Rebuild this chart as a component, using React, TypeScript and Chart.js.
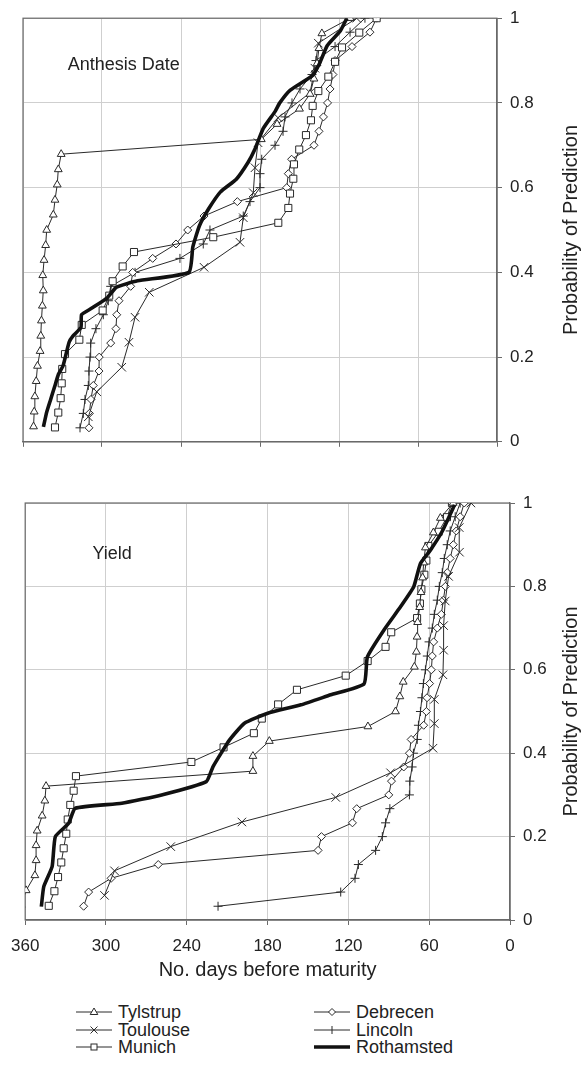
import React, { useEffect, useRef } from 'react';
import { Chart, registerables } from 'chart.js';

Chart.register(...registerables);

// ---------- Data ----------
const seriesNames = ['Tylstrup', 'Toulouse', 'Munich', 'Debrecen', 'Lincoln', 'Rothamsted'];

const xTickStep = 60; // 360, 300, 240, 180, 120, 60, 0
const yTickStep = 0.2; // 0 .. 1

const prob28 = [0.036, 0.071, 0.107, 0.143, 0.179, 0.214, 0.25, 0.286, 0.321, 0.357, 0.393, 0.429, 0.464, 0.5, 0.536, 0.571, 0.607, 0.643, 0.679, 0.714, 0.75, 0.786, 0.821, 0.857, 0.893, 0.929, 0.964, 1];
const prob29 = [0.034, 0.069, 0.103, 0.138, 0.172, 0.207, 0.241, 0.276, 0.31, 0.345, 0.379, 0.414, 0.448, 0.483, 0.517, 0.552, 0.586, 0.621, 0.655, 0.69, 0.724, 0.759, 0.793, 0.828, 0.862, 0.897, 0.931, 0.966, 1];
const prob30 = [0.033, 0.067, 0.1, 0.133, 0.167, 0.2, 0.233, 0.267, 0.3, 0.333, 0.367, 0.4, 0.433, 0.467, 0.5, 0.533, 0.567, 0.6, 0.633, 0.667, 0.7, 0.733, 0.767, 0.8, 0.833, 0.867, 0.9, 0.933, 0.967, 1];
const prob17 = [0.059, 0.118, 0.176, 0.235, 0.294, 0.353, 0.412, 0.471, 0.529, 0.588, 0.647, 0.706, 0.765, 0.824, 0.882, 0.941, 1];

// Anthesis date panel (days before maturity)
const anthTylstrup = [352, 351.5, 351, 350, 349, 347, 346.5, 346, 345.3, 344.6, 345, 344, 342.8, 342, 337, 335.7, 334, 333.2, 331, 179, 167, 150, 142, 139, 136.7, 135.2, 133, 111.6];
const anthToulouse = [310.4, 304, 285, 279.5, 274.9, 264.1, 222.5, 195.2, 192.7, 185.1, 183.8, 181.5, 166.3, 142, 138.3, 135.7, 106.6];
const anthMunich = [335.7, 333.2, 331.4, 330.6, 330.2, 328.1, 317.2, 315.4, 299.5, 294.5, 291.9, 284.3, 275.7, 215.5, 166.1, 158.5, 157.2, 154.7, 154.2, 150.2, 145.1, 141.3, 140, 135.7, 128.1, 123, 117.7, 104.6, 91.4];
const anthDebrecen = [309.9, 309.6, 308.4, 306.6, 302.3, 302.1, 293.4, 289.4, 288.8, 287.1, 278.2, 276.7, 261.5, 243.8, 234.9, 222.5, 197.2, 159.7, 158.5, 156, 139, 135.2, 131.8, 128.7, 126.8, 124.6, 123, 110.1, 96.5, 91.4];
const anthLincoln = [316.7, 314.2, 312.9, 310.4, 309.9, 309.1, 308.6, 304.6, 299, 295.2, 293.4, 274.9, 240.8, 223.1, 218, 192.7, 187.6, 180, 180, 178.7, 168.6, 162.5, 161, 155.7, 149.6, 140.5, 137.5, 123, 111.6, 100.3];
const anthRothamstedDays = [344.5, 342, 339, 336, 333, 329.5, 325, 322, 316, 315.5, 308, 296, 289, 273, 234, 231, 226, 219, 210, 198, 189, 184, 177.5, 168.5, 165, 157, 140, 134.5, 129, 119, 114];
const anthRothamstedProb = [0.035, 0.07, 0.1, 0.13, 0.16, 0.18, 0.235, 0.25, 0.27, 0.3, 0.315, 0.34, 0.365, 0.38, 0.4, 0.46, 0.51, 0.55, 0.59, 0.62, 0.66, 0.69, 0.74, 0.78, 0.8, 0.83, 0.865, 0.895, 0.935, 0.97, 1.0];

// Yield panel (days before maturity)
const yieldTylstrup = [363, 359.3, 352.8, 351.9, 351.9, 351.1, 347.4, 345.4, 344.5, 190.9, 190.9, 178.7, 105.5, 85, 81.8, 79.3, 71, 69.5, 69, 68.6, 67.1, 66.1, 64.9, 64.1, 62.8, 56.9, 51.7, 42.2];
const yieldToulouse = [301.1, 293.7, 251.9, 199.1, 129.4, 88.7, 57.2, 56.2, 56.2, 49.8, 49.3, 49.3, 48.1, 45.6, 37.5, 37.7, 29];
const yieldMunich = [342.5, 338.3, 335.6, 333.2, 331.4, 329.5, 328.4, 326.5, 324, 322.3, 236.6, 212.7, 190.2, 184.3, 172.2, 158.2, 122, 105.7, 92.4, 88.2, 69, 66.9, 65.8, 63.6, 62.1, 60.6, 53, 46.8, 43.1];
const yieldDebrecen = [316.6, 312.9, 296.2, 261.2, 142.5, 140, 117, 113.8, 90, 88, 78.9, 74.7, 73.4, 64.1, 62.1, 61.6, 59.7, 58.4, 57.7, 56.7, 54, 51, 49.5, 48, 46.6, 44.4, 42.1, 39.9, 37, 34];
const yieldLincoln = [216.8, 125.7, 115.1, 112.6, 99.8, 94.8, 92.4, 89.2, 74.7, 74.4, 72.7, 71.7, 68.9, 68, 66.5, 65.4, 64.3, 62.8, 61.4, 60.1, 57.7, 56.2, 54, 52.5, 50.3, 48.8, 46.6, 44.4, 40.7, 37];
const yieldRothamstedDays = [348, 346.2, 340, 337.6, 327.7, 322.8, 288.3, 258.7, 225.5, 220.5, 208.2, 197.2, 179.9, 155.2, 133.1, 108.4, 105.9, 93.7, 81.3, 71.5, 66.5, 59.1, 50.5, 41.2];
const yieldRothamstedProb = [0.032, 0.08, 0.128, 0.2, 0.232, 0.268, 0.28, 0.3, 0.332, 0.368, 0.432, 0.472, 0.496, 0.516, 0.54, 0.566, 0.631, 0.695, 0.751, 0.799, 0.855, 0.887, 0.931, 0.995];

const panelLabels = ['Anthesis Date', 'Yield'];
const yTitle = 'Probability of Prediction';
const xTitle = 'No. days before maturity';

// ---------- Styles ----------
const FONT = "'Liberation Sans', Arial, Helvetica, sans-serif";
const LINE = '#2a2a2a';
const GRID = '#cfcfcf';
const AXIS = '#6a6a6a';
const TEXT = '#222';

const markerStyles: Record<string, { pointStyle: any; radius: number }> = {
  Tylstrup: { pointStyle: 'triangle', radius: 4.5 },
  Toulouse: { pointStyle: 'crossRot', radius: 6 },
  Munich: { pointStyle: 'rect', radius: 5 },
  Debrecen: { pointStyle: 'rectRot', radius: 4 },
  Lincoln: { pointStyle: 'cross', radius: 4.5 },
};

function zip(days: number[], probs: number[]) {
  return days.map((d, i) => ({ x: d, y: probs[i] }));
}

function buildDatasets(panel: 'anth' | 'yield') {
  const src =
    panel === 'anth'
      ? {
          Tylstrup: zip(anthTylstrup, prob28),
          Toulouse: zip(anthToulouse, prob17),
          Munich: zip(anthMunich, prob29),
          Debrecen: zip(anthDebrecen, prob30),
          Lincoln: zip(anthLincoln, prob30),
          Rothamsted: zip(anthRothamstedDays, anthRothamstedProb),
        }
      : {
          Tylstrup: zip(yieldTylstrup, prob28),
          Toulouse: zip(yieldToulouse, prob17),
          Munich: zip(yieldMunich, prob29),
          Debrecen: zip(yieldDebrecen, prob30),
          Lincoln: zip(yieldLincoln, prob30),
          Rothamsted: zip(yieldRothamstedDays, yieldRothamstedProb),
        };
  return seriesNames.map((name) => {
    if (name === 'Rothamsted') {
      return {
        label: name,
        data: (src as any)[name],
        showLine: true,
        borderColor: '#111',
        borderWidth: 3.6,
        pointRadius: 0,
        tension: 0.15,
        order: 0,
      };
    }
    const m = markerStyles[name];
    return {
      label: name,
      data: (src as any)[name],
      showLine: true,
      borderColor: LINE,
      borderWidth: 1,
      pointStyle: m.pointStyle,
      pointRadius: m.radius,
      pointBorderColor: LINE,
      pointBackgroundColor: '#fff',
      pointBorderWidth: 1,
      tension: 0,
      order: 1,
    };
  });
}

const decorPlugin = {
  id: 'panelDecor',
  beforeDatasetsDraw(chart: any) {
    const { ctx, chartArea } = chart;
    ctx.save();
    ctx.strokeStyle = AXIS;
    ctx.lineWidth = 1.2;
    ctx.strokeRect(chartArea.left, chartArea.top, chartArea.right - chartArea.left, chartArea.bottom - chartArea.top);
    ctx.restore();
  },
  afterDraw(chart: any, _args: any, opts: any) {
    const { ctx, chartArea, scales } = chart;
    ctx.save();
    ctx.fillStyle = TEXT;
    ctx.font = `18px ${FONT}`;
    ctx.textAlign = 'left';
    ctx.textBaseline = 'middle';
    ctx.fillText(opts.label, scales.x.getPixelForValue(opts.labelX), scales.y.getPixelForValue(opts.labelY));
    ctx.translate(opts.titleX, (chartArea.top + chartArea.bottom) / 2);
    ctx.rotate(-Math.PI / 2);
    ctx.textAlign = 'center';
    ctx.font = `20px ${FONT}`;
    ctx.fillText(yTitle, 0, 0);
    ctx.restore();
  },
};

function makeConfig(panel: 'anth' | 'yield') {
  const isTop = panel === 'anth';
  return {
    type: 'scatter' as const,
    data: { datasets: buildDatasets(panel) },
    plugins: [decorPlugin],
    options: {
      responsive: false,
      animation: false as const,
      layout: { padding: { left: 23, top: isTop ? 15 : 43, right: 0, bottom: 0 } },
      plugins: {
        legend: { display: false },
        tooltip: { enabled: false },
        panelDecor: {
          label: isTop ? panelLabels[0] : panelLabels[1],
          labelX: isTop ? 326 : 310,
          labelY: isTop ? 0.89 : 0.878,
          titleX: 571,
        },
      },
      scales: {
        x: {
          type: 'linear' as const,
          reverse: true,
          min: 0,
          max: 360,
          ticks: {
            stepSize: xTickStep,
            display: !isTop,
            color: TEXT,
            padding: 11,
            maxRotation: 0,
            font: { size: 17, family: FONT },
          },
          grid: { color: GRID, lineWidth: 1, tickColor: AXIS, tickLength: 5, drawTicks: true },
          border: { color: AXIS, width: 1.2 },
          title: {
            display: !isTop,
            text: xTitle,
            color: TEXT,
            font: { size: 20, family: FONT },
            padding: { top: 0, bottom: 3 },
          },
          afterFit: (s: any) => {
            s.height = isTop ? 11 : 65;
          },
        },
        y: {
          type: 'linear' as const,
          position: 'right' as const,
          min: 0,
          max: 1,
          ticks: {
            stepSize: yTickStep,
            color: TEXT,
            padding: 8,
            font: { size: 17, family: FONT },
            callback: (v: any) => String(Number(Number(v).toFixed(1))),
          },
          grid: { color: GRID, lineWidth: 1, tickColor: AXIS, tickLength: 5 },
          border: { color: AXIS, width: 1.2 },
          afterFit: (s: any) => {
            s.width = isTop ? 87 : 74;
          },
        },
      },
    },
  };
}

function Panel({ panel, top, height }: { panel: 'anth' | 'yield'; top: number; height: number }) {
  const ref = useRef<HTMLCanvasElement | null>(null);
  useEffect(() => {
    if (!ref.current) return;
    const chart = new Chart(ref.current, makeConfig(panel) as any);
    return () => chart.destroy();
  }, [panel]);
  return (
    <canvas
      ref={ref}
      width={584}
      height={height}
      style={{ position: 'absolute', left: 0, top, width: 584, height }}
    />
  );
}

function Icon({ name }: { name: string }) {
  const w = 36;
  const cy = 7;
  const cx = w / 2;
  let marker: React.ReactNode = null;
  const st = { stroke: LINE, strokeWidth: 1, fill: '#fff' };
  if (name === 'Tylstrup') marker = <polygon points={`${cx},${cy - 4} ${cx - 3.8},${cy + 2.5} ${cx + 3.8},${cy + 2.5}`} {...st} />;
  if (name === 'Toulouse') marker = <g {...st}><line x1={cx - 3.5} y1={cy - 3.5} x2={cx + 3.5} y2={cy + 3.5} /><line x1={cx - 3.5} y1={cy + 3.5} x2={cx + 3.5} y2={cy - 3.5} /></g>;
  if (name === 'Munich') marker = <rect x={cx - 3} y={cy - 3} width={6} height={6} {...st} />;
  if (name === 'Debrecen') marker = <polygon points={`${cx},${cy - 3.5} ${cx + 3.5},${cy} ${cx},${cy + 3.5} ${cx - 3.5},${cy}`} {...st} />;
  if (name === 'Lincoln') marker = <g {...st}><line x1={cx} y1={cy - 4} x2={cx} y2={cy + 4} /></g>;
  const thick = name === 'Rothamsted';
  return (
    <svg width={w} height={14} style={{ display: 'block' }}>
      <line x1={0} y1={cy} x2={w} y2={cy} stroke={thick ? '#111' : LINE} strokeWidth={thick ? 3.6 : 1} />
      {marker}
    </svg>
  );
}

const legendCols = [
  ['Tylstrup', 'Toulouse', 'Munich'],
  ['Debrecen', 'Lincoln', 'Rothamsted'],
];
const legendColX = [76, 314];
const legendRowY = [1012, 1030, 1047];

export default function App() {
  return (
    <div style={{ position: 'absolute', left: 0, top: 0, width: 584, height: 1069, background: '#fff', fontFamily: FONT }}>
      <Panel panel="anth" top={0} height={460} />
      <Panel panel="yield" top={460} height={525} />
      {legendCols.map((col, ci) =>
        col.map((name, ri) => (
          <div
            key={name}
            style={{
              position: 'absolute',
              left: legendColX[ci],
              top: legendRowY[ri] - 10,
              height: 20,
              display: 'flex',
              alignItems: 'center',
              gap: 6,
              fontSize: 18,
              color: TEXT,
              whiteSpace: 'nowrap',
              lineHeight: '20px',
            }}
          >
            <Icon name={name} />
            <span>{name}</span>
          </div>
        ))
      )}
    </div>
  );
}
